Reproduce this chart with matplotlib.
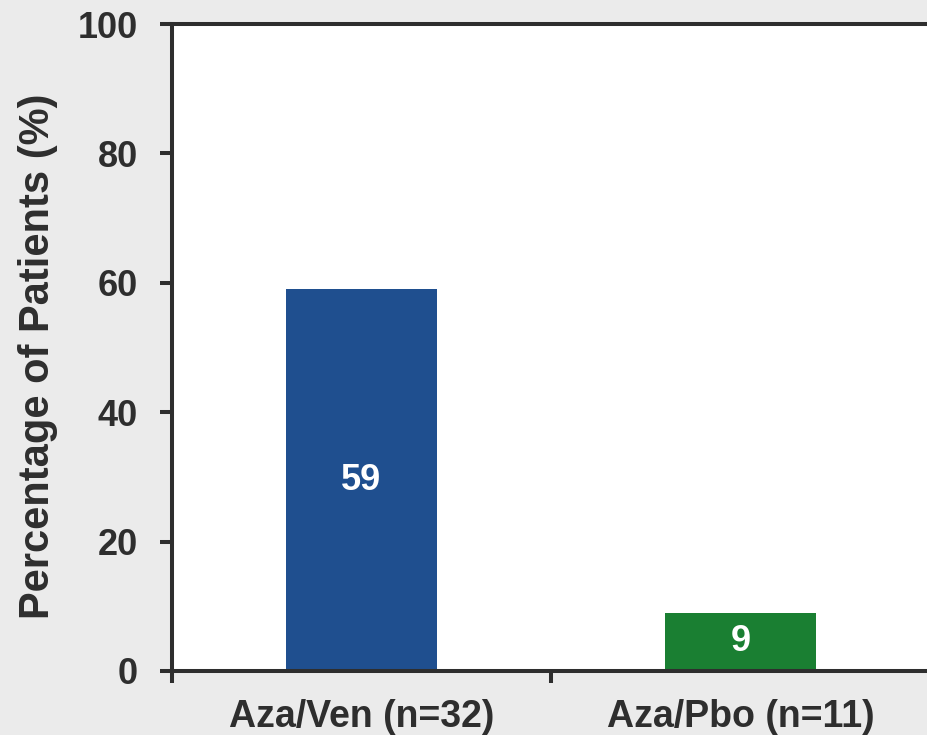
import matplotlib.pyplot as plt

# Données
groupes = ["Aza/Ven (n=32)", "Aza/Pbo (n=11)"]
pourcentages = [59, 9]
couleurs = ["#1F4F8F", "#1A7F32"]
graduations_y = [0, 20, 40, 60, 80, 100]

plt.rcParams['font.family'] = ['Liberation Sans', 'DejaVu Sans']
plt.rcParams['font.weight'] = 'bold'

fond = "#EBEBEB"
gris = "#2E2E2E"

fig = plt.figure(figsize=(9.27, 7.35), dpi=100, facecolor=fond)
# l'axe dépasse légèrement le bord droit de l'image
ax = fig.add_axes([172 / 927, 64 / 735, 758 / 927, 647 / 735])
ax.set_facecolor("white")

positions = [i + 0.5 for i in range(len(groupes))]
barres = ax.bar(positions, pourcentages, width=0.4, color=couleurs, zorder=2)

# Valeurs dans les barres
for barre, val in zip(barres, pourcentages):
    ax.text(
        barre.get_x() + barre.get_width() / 2,
        val / 2,
        str(val),
        color="white",
        fontsize=26,
        fontweight='bold',
        ha='center',
        va='center'
    )

ax.set_xlim(0, len(groupes))
ax.set_ylim(0, 100)
ax.set_yticks(graduations_y)
ax.set_xticks(range(len(groupes) + 1))
ax.set_xticklabels([])
ax.set_xticks(positions, minor=True)
ax.set_xticklabels(groupes, minor=True)

for cote in ax.spines.values():
    cote.set_linewidth(2.9)
    cote.set_color(gris)

ax.tick_params(axis='y', which='major', length=8.5, width=2.9, color=gris,
               labelsize=26, labelcolor=gris, pad=16)
ax.tick_params(axis='x', which='major', length=8.5, width=2.9, color=gris)
ax.tick_params(axis='x', which='minor', length=0, labelsize=27,
               labelcolor=gris, pad=20)

ax.set_ylabel("Percentage of Patients (%)", fontsize=30, fontweight='bold',
              color=gris, labelpad=14)
ax.yaxis.label.set_y(0.486)

plt.savefig("out.png", dpi=100, facecolor=fond)
plt.close()
